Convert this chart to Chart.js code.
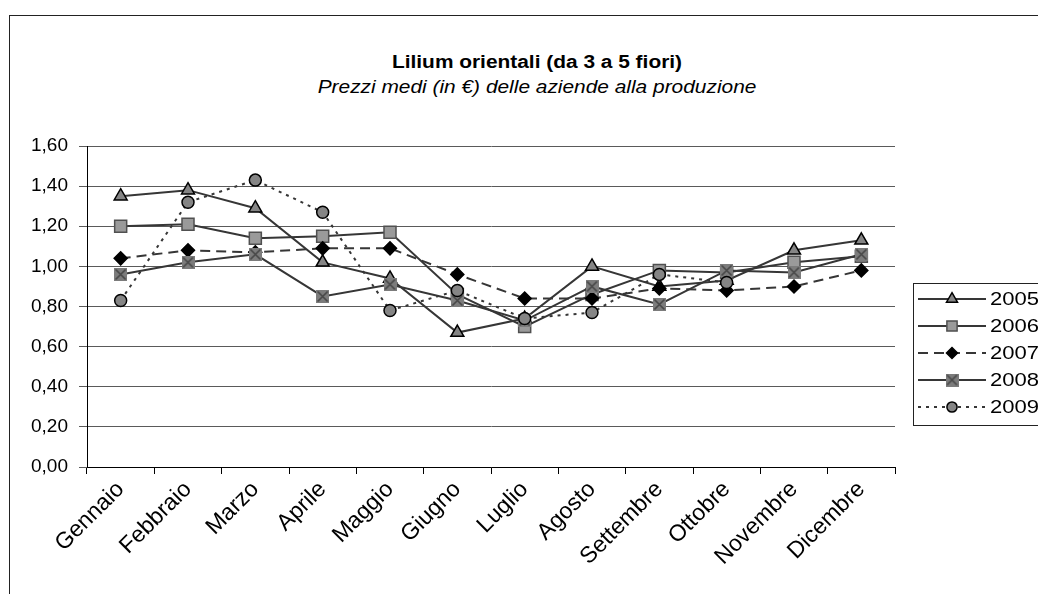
<!DOCTYPE html>
<html>
<head>
<meta charset="utf-8">
<script src="https://cdn.jsdelivr.net/npm/chart.js@4.4.1/dist/chart.umd.min.js"></script>
<style>
  html, body { margin: 0; padding: 0; background: #fff; overflow: hidden; }
  #wrap { position: relative; width: 1038px; height: 594px; }
  #frame {
    position: absolute; left: 9px; top: 15px; width: 1100px; height: 700px;
    border-left: 1px solid #222; border-top: 1px solid #222;
  }
  .ttl {
    position: absolute; left: 237px; width: 600px; text-align: center;
    font-family: "Liberation Sans", Arial, sans-serif; font-size: 18px; line-height: 18px;
    color: #000; transform: scaleX(1.16); white-space: nowrap;
  }
  #title { top: 53px; font-weight: bold; }
  #subtitle { top: 78px; font-style: italic; }
  canvas { position: absolute; left: 0; top: 0; }
</style>
</head>
<body>
<div id="wrap">
  <div id="frame"></div>
  <div class="ttl" id="title">Lilium orientali (da 3 a 5 fiori)</div>
  <div class="ttl" id="subtitle">Prezzi medi (in €) delle aziende alla produzione</div>
  <canvas id="chart" width="1038" height="594"></canvas>
</div>
<script>
  /* -------------------------------------------------------
   DATA
  ------------------------------------------------------- */
  const months = ["Gennaio", "Febbraio", "Marzo", "Aprile", "Maggio", "Giugno",
    "Luglio", "Agosto", "Settembre", "Ottobre", "Novembre", "Dicembre"];
  const years = ["2005", "2006", "2007", "2008", "2009"];

  const prices2005 = [1.35, 1.38, 1.29, 1.02, 0.94, 0.67, 0.74, 1.00, 0.90, 0.93, 1.08, 1.13];
  const prices2006 = [1.20, 1.21, 1.14, 1.15, 1.17, 0.86, 0.70, 0.86, 0.98, 0.97, 1.02, 1.05];
  const prices2007 = [1.04, 1.08, 1.07, 1.09, 1.09, 0.96, 0.84, 0.84, 0.89, 0.88, 0.90, 0.98];
  const prices2008 = [0.96, 1.02, 1.06, 0.85, 0.91, 0.83, 0.73, 0.90, 0.81, 0.98, 0.97, 1.06];
  const prices2009 = [0.83, 1.32, 1.43, 1.27, 0.78, 0.88, 0.74, 0.77, 0.96, 0.92, null, null];

  const yTicks = [0, 0.2, 0.4, 0.6, 0.8, 1.0, 1.2, 1.4, 1.6];

  const FONT = "'Liberation Sans', Arial, sans-serif";
  Chart.defaults.font.family = FONT;
  Chart.defaults.color = "#000";

  /* marker for 2008: grey square with a cross */
  const crossBox = document.createElement("canvas");
  crossBox.width = 13;
  crossBox.height = 13;
  (function () {
    const c = crossBox.getContext("2d");
    c.fillStyle = "#7c7c7c";
    c.fillRect(0, 0, 13, 13);
    c.strokeStyle = "#474747";
    c.lineWidth = 1.6;
    c.beginPath();
    c.moveTo(1.5, 1.5); c.lineTo(11.5, 11.5);
    c.moveTo(11.5, 1.5); c.lineTo(1.5, 11.5);
    c.stroke();
  })();

  function series(label, data, extra) {
    return Object.assign({
      label: label,
      data: data,
      borderColor: "#363636",
      borderWidth: 2,
      pointBorderWidth: 1.5,
      pointHoverRadius: 7,
      spanGaps: false,
      tension: 0,
    }, extra);
  }

  const datasets = [
    series(years[0], prices2005, {
      pointStyle: "triangle", pointRadius: 7.5,
      pointBackgroundColor: "#858585", pointBorderColor: "#000", order: 5,
    }),
    series(years[1], prices2006, {
      pointStyle: "rect", pointRadius: 8.5,
      pointBackgroundColor: "#9a9a9a", pointBorderColor: "#505050", order: 4,
    }),
    series(years[2], prices2007, {
      borderDash: [10, 6], pointStyle: "rectRot", pointRadius: 6.5,
      pointBackgroundColor: "#000", pointBorderColor: "#000", order: 3,
    }),
    series(years[3], prices2008, {
      pointStyle: crossBox, pointRadius: 6.5,
      pointBackgroundColor: "#7c7c7c", pointBorderColor: "#474747", order: 2,
    }),
    series(years[4], prices2009, {
      borderDash: [3, 5], pointStyle: "circle", pointRadius: 6,
      pointBackgroundColor: "#858585", pointBorderColor: "#000", order: 1,
    }),
  ];

  /* -------------------------------------------------------
   LEGEND (boxed, line + marker, drawn like the original)
  ------------------------------------------------------- */
  const boxLegend = {
    id: "boxLegend",
    afterDraw(chart) {
      const ctx = chart.ctx;
      ctx.save();
      ctx.strokeStyle = "#222";
      ctx.lineWidth = 1;
      ctx.strokeRect(913.5, 283.5, 200, 142);
      chart.data.datasets.forEach((ds, i) => {
        const y = 299 + i * 27;
        ctx.beginPath();
        ctx.setLineDash(ds.borderDash || []);
        ctx.strokeStyle = ds.borderColor;
        ctx.lineWidth = ds.borderWidth;
        ctx.moveTo(918, y);
        ctx.lineTo(986, y);
        ctx.stroke();
        ctx.setLineDash([]);
        ctx.fillStyle = ds.pointBackgroundColor;
        ctx.strokeStyle = ds.pointBorderColor;
        ctx.lineWidth = ds.pointBorderWidth;
        Chart.helpers.drawPoint(ctx, {
          pointStyle: ds.pointStyle,
          radius: ds.pointRadius * 0.85,
          borderWidth: ds.pointBorderWidth,
          rotation: 0,
        }, 952, y);
        // text is a bit wider than plain Arial in the original
        ctx.save();
        ctx.translate(990, y + 1);
        ctx.scale(1.16, 1);
        ctx.fillStyle = "#000";
        ctx.font = "19px " + FONT;
        ctx.textBaseline = "middle";
        ctx.textAlign = "left";
        ctx.fillText(ds.label, 0, 0);
        ctx.restore();
      });
      ctx.restore();
    },
  };

  /* -------------------------------------------------------
   LINE CHART
  ------------------------------------------------------- */
  new Chart(document.getElementById("chart"), {
    type: "line",
    data: { labels: months, datasets: datasets },
    plugins: [boxLegend],
    options: {
      responsive: false,
      animation: false,
      layout: { padding: { left: 10, right: 143, top: 146, bottom: 7 } },
      plugins: {
        legend: { display: false },
        title: { display: false },
        tooltip: { enabled: false },
      },
      scales: {
        x: {
          type: "category",
          offset: true,
          afterFit: (s) => { s.height = 120; },
          grid: {
            offset: true,
            drawOnChartArea: false,
            drawTicks: true,
            tickLength: 7,
            color: "#000",
          },
          border: { display: true, color: "#000", width: 1 },
          ticks: {
            maxRotation: 45,
            minRotation: 45,
            autoSkip: false,
            padding: 2,
            color: "#000",
            font: { size: 23 },
          },
        },
        y: {
          min: yTicks[0],
          max: yTicks[yTicks.length - 1],
          afterFit: (s) => { s.width = 77; },
          afterBuildTicks: (s) => { s.ticks = yTicks.map((v) => ({ value: v })); },
          grid: {
            color: "#5a5a5a",
            lineWidth: 1,
            tickLength: 8,
          },
          border: { display: true, color: "#000", width: 1 },
          ticks: {
            padding: 11,
            color: "#000",
            font: { size: 19 },
            callback: (v) => Number(v).toFixed(2).replace(".", ","),
          },
        },
      },
    },
  });
</script>
</body>
</html>
